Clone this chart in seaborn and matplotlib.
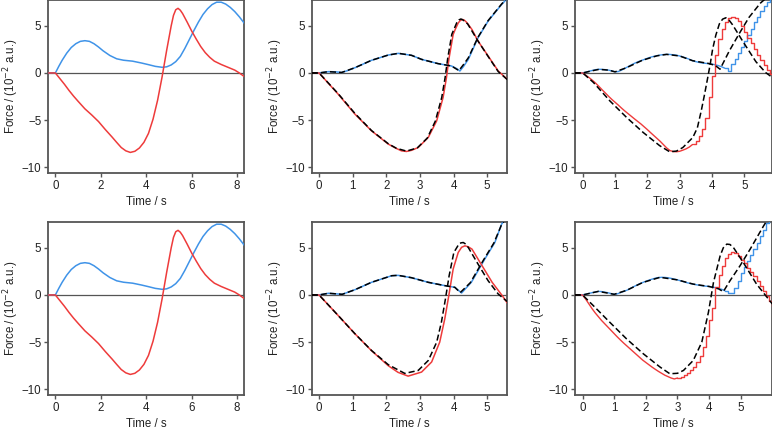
import numpy as np
import matplotlib
matplotlib.use("Agg")
import matplotlib.pyplot as plt
import seaborn as sns

sns.set_theme(style="ticks")
plt.rcParams['font.family'] = ['Liberation Sans', 'DejaVu Sans']

BLUE = '#3f93e8'
RED = '#ee3b3b'

# ---- column 1 (top and bottom look the same) ----
t1_blue = [-0.3, 0, 0.15, 0.3, 0.5, 0.7, 0.9, 1.1, 1.3, 1.5, 1.7, 1.9, 2.1, 2.4, 2.7, 3.0,
           3.4, 3.8, 4.1, 4.4, 4.7, 4.9, 5.1, 5.3, 5.5, 5.7, 5.9, 6.1, 6.3, 6.5, 6.7, 6.9,
           7.1, 7.3, 7.5, 7.7, 7.9, 8.1, 8.34]
v1_blue = [0, 0, 0.7, 1.35, 2.1, 2.7, 3.1, 3.35, 3.42, 3.35, 3.1, 2.75, 2.35, 1.85, 1.5, 1.35,
           1.25, 1.05, 0.88, 0.7, 0.6, 0.65, 0.85, 1.2, 1.75, 2.6, 3.55, 4.5, 5.4, 6.2, 6.8,
           7.25, 7.5, 7.5, 7.3, 6.95, 6.5, 5.95, 5.2]
t1_red = [-0.3, 0, 0.2, 0.4, 0.6, 0.8, 1.0, 1.3, 1.6, 1.9, 2.2, 2.5, 2.7, 2.9, 3.1, 3.3,
          3.5, 3.7, 3.9, 4.1, 4.3, 4.5, 4.7, 4.9, 5.1, 5.2, 5.3, 5.4, 5.5, 5.6, 5.8, 6.0,
          6.2, 6.4, 6.6, 6.8, 7.0, 7.3, 7.6, 7.9, 8.1, 8.34]
v1_red = [0, 0, -0.6, -1.2, -1.85, -2.45, -3.0, -3.8, -4.45, -5.15, -6.0, -6.8, -7.36, -7.9,
          -8.25, -8.42, -8.3, -7.95, -7.35, -6.4, -4.9, -2.9, -0.4, 2.4, 5.0, 6.1, 6.7, 6.85,
          6.65, 6.3, 5.4, 4.45, 3.6, 2.8, 2.15, 1.65, 1.25, 0.9, 0.6, 0.3, 0.0, -0.42]

# ---- column 2, top ----
t2_blue = [-0.22, 0, 0.28, 0.5, 0.67, 0.85, 1.07, 1.56, 2.06, 2.36, 2.75, 3.05, 3.54, 3.94,
           4.1, 4.19, 4.3, 4.44, 4.73, 5.03, 5.43, 5.6]
v2_blue = [0, 0, 0.14, 0.12, 0.05, 0.25, 0.56, 1.34, 1.9, 2.08, 1.87, 1.44, 0.99, 0.74,
           0.45, 0.21, 0.7, 1.44, 3.73, 5.5, 7.25, 7.9]
t2_blue_ref = [-0.22, 0, 0.28, 0.67, 1.07, 1.56, 2.06, 2.36, 2.75, 3.05, 3.54, 3.94, 4.16,
               4.3, 4.44, 4.73, 5.03, 5.43, 5.6]
v2_blue_ref = [0, 0, 0.14, 0.05, 0.56, 1.34, 1.9, 2.08, 1.87, 1.44, 0.99, 0.74, 0.25,
               0.9, 1.6, 3.8, 5.55, 7.3, 7.95]
t2_red = [-0.22, 0, 0.57, 1.07, 1.56, 2.06, 2.3, 2.45, 2.6, 2.75, 2.95, 3.25, 3.5, 3.69,
          3.79, 3.87, 3.99, 4.05, 4.14, 4.2, 4.26, 4.32, 4.38, 4.44, 4.55, 4.73, 5.03, 5.33,
          5.6]
v2_red = [0, 0, -2.25, -4.37, -6.13, -7.54, -8.0, -8.25, -8.32, -8.2, -7.9, -6.83, -5.07,
          -2.6, -0.5, 1.62, 4.08, 4.6, 5.3, 5.55, 5.67, 5.6, 5.4, 5.14, 4.6, 3.38, 1.8, 0.21,
          -0.67]
t2_red_ref = [-0.22, 0, 0.57, 1.07, 1.56, 2.06, 2.3, 2.6, 2.92, 3.22, 3.46, 3.65, 3.75,
              3.83, 3.95, 4.1, 4.16, 4.22, 4.28, 4.34, 4.42, 4.73, 5.03, 5.33, 5.6]
v2_red_ref = [0, 0, -2.2, -4.3, -6.1, -7.5, -7.98, -8.28, -7.95, -6.9, -5.1, -2.6, -0.5,
              1.6, 4.1, 5.35, 5.62, 5.72, 5.62, 5.45, 5.2, 3.38, 1.75, 0.15, -0.7]

# ---- column 2, bottom ----
t5_blue = [-0.22, 0, 0.28, 0.69, 1.07, 1.56, 2.16, 2.35, 2.75, 3.25, 3.74, 4.04, 4.24, 4.53,
           4.93, 5.23, 5.43, 5.6]
v5_blue = [0, 0, 0.18, 0.07, 0.56, 1.34, 2.04, 2.08, 1.83, 1.34, 0.99, 0.81, 0.21, 1.34,
           3.8, 5.56, 7.5, 8.3]
t5_blue_ref = [-0.22, 0, 0.28, 0.69, 1.07, 1.56, 2.16, 2.35, 2.75, 3.25, 3.74, 4.04, 4.2,
               4.5, 4.9, 5.2, 5.43, 5.6]
v5_blue_ref = [0, 0, 0.18, 0.07, 0.56, 1.34, 2.04, 2.08, 1.83, 1.34, 0.99, 0.81, 0.25,
               1.3, 3.75, 5.5, 7.45, 8.3]
t5_red = [-0.22, 0, 0.57, 1.07, 1.56, 2.06, 2.35, 2.65, 3.05, 3.35, 3.59, 3.74, 3.86, 3.99,
          4.14, 4.24, 4.34, 4.44, 4.55, 4.85, 5.15, 5.45, 5.6]
v5_red = [0, 0, -2.18, -4.12, -5.9, -7.5, -8.2, -8.6, -8.17, -7.1, -5.0, -2.54, -0.07, 2.75,
          4.5, 5.05, 5.21, 5.1, 4.86, 3.1, 1.34, -0.07, -0.85]
t5_red_ref = [-0.22, 0, 0.57, 1.07, 1.56, 2.06, 2.55, 2.95, 3.25, 3.5, 3.64, 3.76, 3.87,
              4.01, 4.16, 4.22, 4.29, 4.36, 4.44, 4.73, 5.03, 5.33, 5.6]
v5_red_ref = [0, 0, -2.18, -4.12, -5.88, -7.39, -8.31, -8.0, -6.94, -5.0, -2.89, -0.42, 2.04,
              4.5, 5.39, 5.52, 5.56, 5.4, 5.03, 3.27, 1.51, 0.1, -0.7]

# ---- column 3: sampled every 0.1 s from -0.3 to 6.0 ----
t_step = np.round(np.arange(-0.3, 6.05, 0.1), 1)
v3_red = [0, 0, 0,
          0, -0.25, -0.5, -0.78, -1.08, -1.42, -1.78, -2.12, -2.47, -2.8,
          -3.1, -3.4, -3.72, -4.02, -4.3, -4.58, -4.86, -5.13, -5.4, -5.7,
          -6.0, -6.32, -6.63, -6.94, -7.25, -7.6, -7.95, -8.22, -8.33, -8.35,
          -8.3, -8.18, -8.04, -7.85, -7.58, -7.2, -6.65, -5.9, -4.75, -2.5,
          -0.3, 1.9, 3.6, 4.7, 5.4, 5.8, 5.9, 5.85, 5.55, 5.0,
          4.35, 3.75, 3.15, 2.5, 1.9, 1.35, 0.85, 0.35, -0.15, -0.5,
          -0.9]
v3_blue = [0, 0, 0,
           0, 0.08, 0.18, 0.27, 0.35, 0.39, 0.38, 0.35, 0.3, 0.22,
           0.12, 0.15, 0.3, 0.48, 0.66, 0.85, 1.02, 1.17, 1.3, 1.42,
           1.55, 1.67, 1.76, 1.83, 1.9, 1.95, 1.97, 1.96, 1.93, 1.88,
           1.8, 1.7, 1.58, 1.45, 1.3, 1.2, 1.12, 1.06, 1.02, 0.99,
           0.94, 0.87, 0.78, 0.66, 0.5, 0.25, 0.9, 1.5, 2.15, 2.8,
           3.4, 4.05, 4.7, 5.35, 5.95, 6.55, 7.05, 7.5, 7.9, 8.3,
           8.7]
t3_red_ref = [-0.25, 0, 0.33, 0.84, 1.36, 1.87, 2.38, 2.69, 2.9, 3.1, 3.41, 3.55, 3.67, 3.77,
              3.87, 3.95, 4.02, 4.12, 4.23, 4.33, 4.43, 4.53, 4.64, 4.95, 5.36, 5.66, 5.9]
v3_red_ref = [0, 0, -1.0, -2.96, -4.72, -6.3, -7.7, -8.35, -8.28, -7.9, -6.83, -5.8, -4.0,
              -2.3, -0.49, 1.0, 2.5, 4.0, 5.2, 5.7, 5.85, 5.6, 5.1, 3.38, 1.2, 0.05, -0.55]
t3_blue_ref = [-0.25, 0, 0.25, 0.5, 0.8, 1.0, 1.35, 1.85, 2.3, 2.6, 3.0, 3.4, 3.9, 4.1,
               4.25, 4.54, 4.85, 5.15, 5.5, 5.9]
v3_blue_ref = [0, 0, 0.2, 0.38, 0.3, 0.12, 0.55, 1.35, 1.82, 1.97, 1.8, 1.3, 1.0, 0.8,
               0.4, 2.35, 4.2, 5.9, 7.4, 8.6]

v6_red = [0, 0, 0,
          0, -0.45, -0.95, -1.45, -1.9, -2.3, -2.7, -3.05, -3.4, -3.75,
          -4.1, -4.45, -4.78, -5.1, -5.4, -5.7, -6.0, -6.3, -6.6, -6.9,
          -7.15, -7.4, -7.65, -7.88, -8.1, -8.3, -8.5, -8.65, -8.8, -8.9,
          -8.8, -8.65, -8.5, -8.25, -7.95, -7.6, -7.1, -6.45, -5.5, -4.3,
          -2.7, -1.4, 0.8, 2.1, 3.1, 3.9, 4.35, 4.6, 4.45, 4.15,
          3.75, 3.35, 2.9, 2.45, 2.0, 1.5, 0.95, 0.4, -0.15, -0.65,
          -1.15]
v6_blue = [0, 0, 0,
           0, 0.08, 0.16, 0.24, 0.32, 0.38, 0.36, 0.3, 0.24, 0.15,
           0.07, 0.12, 0.25, 0.38, 0.5, 0.68, 0.85, 1.02, 1.18, 1.32,
           1.45, 1.57, 1.68, 1.78, 1.85, 1.87, 1.86, 1.82, 1.76, 1.68,
           1.6, 1.5, 1.4, 1.3, 1.22, 1.15, 1.08, 1.02, 0.97, 0.93,
           0.9, 0.85, 0.78, 0.7, 0.6, 0.45, 0.2, 0.25, 0.75, 1.5,
           2.3, 2.95, 3.6, 4.25, 4.86, 5.5, 6.2, 6.9, 7.6, 8.2,
           8.8]
t6_red_ref = [-0.25, 0, 0.34, 0.86, 1.39, 1.92, 2.45, 2.76, 3.0, 3.19, 3.5, 3.77, 3.98, 4.14,
              4.35, 4.45, 4.56, 4.66, 4.77, 5.08, 5.5, 6.0]
v6_red_ref = [0, 0, -1.13, -2.89, -4.65, -6.23, -7.64, -8.35, -8.3, -8.0, -6.94, -5.0, -1.83,
              1.34, 4.15, 5.0, 5.39, 5.35, 5.03, 3.45, 1.16, -0.95]
t6_blue_ref = [-0.25, 0, 0.5, 1.0, 1.4, 1.9, 2.45, 3.0, 3.5, 4.0, 4.3, 4.45, 4.66, 4.98,
               5.3, 5.72, 6.0]
v6_blue_ref = [0, 0, 0.38, 0.07, 0.5, 1.32, 1.87, 1.6, 1.15, 0.9, 0.65, 0.35, 1.5, 3.1,
               4.86, 7.3, 8.8]

x_ticks_long = [0, 2, 4, 6, 8]
x_ticks_short = [0, 1, 2, 3, 4, 5]
y_ticks = [-10, -5, 0, 5]


def style_axes(ax, xlim, xticks):
    ax.set_xlim(*xlim)
    ax.set_ylim(-10.6, 7.7)
    ax.set_xticks(xticks)
    ax.set_yticks(y_ticks)
    ax.axhline(0, color='#555555', lw=0.9, zorder=1)
    for s in ax.spines.values():
        s.set_color('#555555')
        s.set_linewidth(1.3)
    ax.tick_params(direction='out', length=3, width=1, color='#555555',
                   labelsize=8.3, labelcolor='#222222', pad=2)
    ax.set_xlabel('Time / s', fontsize=8.3, color='#222222', labelpad=3)
    ax.set_ylabel('Force / (10$^{-2}$ a.u.)', fontsize=8.3, color='#222222')
    ax.yaxis.set_label_coords(-0.137, 0.5)


def draw_line(ax, t, v, color, dashed=False):
    kw = dict(x=t, y=v, ax=ax, color=color, sort=False, estimator=None)
    if dashed:
        sns.lineplot(**kw, lw=1.1, linestyle=(0, (4, 2)), zorder=4)
    else:
        sns.lineplot(**kw, lw=1.1, zorder=3)


def draw_stepped(ax, t, v, color, step_from):
    # smooth before step_from, held values (staircase) after it
    t = np.asarray(t)
    v = np.asarray(v)
    early = t <= step_from
    late = t >= step_from
    sns.lineplot(x=t[early], y=v[early], ax=ax, color=color, sort=False,
                 estimator=None, lw=1.0, zorder=3)
    sns.lineplot(x=t[late], y=v[late], ax=ax, color=color, sort=False,
                 estimator=None, lw=1.0, drawstyle='steps-post', zorder=3)


fig = plt.figure(figsize=(7.72, 4.30), dpi=100)
lefts = [0.0626, 0.4037, 0.7452]
widths = [0.2539, 0.2534, 0.2544]
bottoms = [0.5977, 0.0814]
height = 0.4016

axes = [[fig.add_axes([lefts[c], bottoms[r], widths[c], height]) for c in range(3)]
        for r in range(2)]

# column 1
for r in range(2):
    ax = axes[r][0]
    draw_line(ax, t1_blue, v1_blue, BLUE)
    draw_line(ax, t1_red, v1_red, RED)
    style_axes(ax, (-0.31, 8.32), x_ticks_long)

# column 2
ax = axes[0][1]
draw_line(ax, t2_blue, v2_blue, BLUE)
draw_line(ax, t2_red, v2_red, RED)
draw_line(ax, t2_blue_ref, v2_blue_ref, 'black', dashed=True)
draw_line(ax, t2_red_ref, v2_red_ref, 'black', dashed=True)
style_axes(ax, (-0.22, 5.6), x_ticks_short)

ax = axes[1][1]
draw_line(ax, t5_blue, v5_blue, BLUE)
draw_line(ax, t5_red, v5_red, RED)
draw_line(ax, t5_blue_ref, v5_blue_ref, 'black', dashed=True)
draw_line(ax, t5_red_ref, v5_red_ref, 'black', dashed=True)
style_axes(ax, (-0.22, 5.6), x_ticks_short)

# column 3
ax = axes[0][2]
draw_stepped(ax, t_step, v3_blue, BLUE, 4.4)
draw_stepped(ax, t_step, v3_red, RED, 3.4)
draw_line(ax, t3_blue_ref, v3_blue_ref, 'black', dashed=True)
draw_line(ax, t3_red_ref, v3_red_ref, 'black', dashed=True)
style_axes(ax, (-0.23, 5.85), x_ticks_short)

ax = axes[1][2]
draw_stepped(ax, t_step, v6_blue, BLUE, 4.5)
draw_stepped(ax, t_step, v6_red, RED, 3.0)
draw_line(ax, t6_blue_ref, v6_blue_ref, 'black', dashed=True)
draw_line(ax, t6_red_ref, v6_red_ref, 'black', dashed=True)
style_axes(ax, (-0.23, 5.98), x_ticks_short)

fig.savefig('out.png', dpi=100)
